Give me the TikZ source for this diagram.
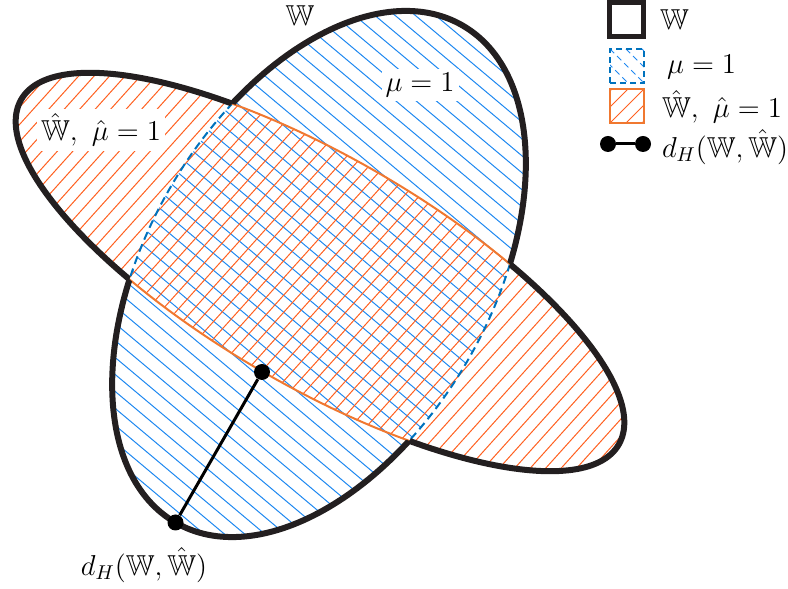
\documentclass[tikz,border=0pt]{standalone}
\usepackage{amsmath,amssymb}
\usepackage{xcolor}
\usepackage{tikz}
\usetikzlibrary{positioning}
\definecolor{HatchBlue}{RGB}{30,136,240}
\definecolor{EdgeBlue}{RGB}{0,114,189}
\definecolor{HatchOrange}{RGB}{255,96,32}
\definecolor{EdgeOrange}{RGB}{240,120,48}
\definecolor{OutlineBlack}{RGB}{35,31,32}

\def\setW{(319,315) circle [x radius=287, y radius=172, rotate=60]}
\def\setWhat{(320,317) circle [x radius=345, y radius=115, rotate=-30]}
\def\outside{(-50,-50) -- (-50,650) -- (850,650) -- (850,-50) -- cycle}

\begin{document}
\begin{tikzpicture}[x=0.5pt, y=0.5pt, font=\Large,
  hatchW/.style={HatchBlue, line width=0.5pt},
  hatchWhat/.style={HatchOrange, line width=0.5pt},
  edgeW/.style={EdgeBlue, line width=1pt, dash pattern=on 4pt off 2.5pt},
  edgeWhat/.style={EdgeOrange, line width=1pt},
  outline/.style={OutlineBlack, line width=3pt},
  dot/.style={circle, fill=black, inner sep=0pt, minimum size=8pt},
  hline/.style={black, line width=1.5pt},
  lab/.style={fill=white, inner sep=2pt},
  legbox/.style={minimum size=17pt, inner sep=0pt}]
  \useasboundingbox (0,0) rectangle (788,589);

  % hatching of both sets
  \begin{scope}
    \clip \setW;
    \foreach \k in {-26,...,26}
      \draw[hatchW, rotate around={-40:(319,315)}] (-100,315+\k*13) -- (740,315+\k*13);
  \end{scope}
  \begin{scope}
    \clip \setWhat;
    \foreach \k in {-34,...,34}
      \draw[hatchWhat, rotate around={48:(320,317)}] (-100,317+\k*11.5) -- (740,317+\k*11.5);
  \end{scope}

  % inner boundaries
  \begin{scope}
    \clip \setWhat;
    \draw[edgeW] \setW;
  \end{scope}
  \begin{scope}
    \clip \setW;
    \draw[edgeWhat] \setWhat;
  \end{scope}

  % outline of the union
  \begin{scope}[even odd rule]
    \clip \outside \setWhat;
    \draw[outline] \setW;
  \end{scope}
  \begin{scope}[even odd rule]
    \clip \outside \setW;
    \draw[outline] \setWhat;
  \end{scope}

  % Hausdorff distance
  \node[dot] (far) at (175.5,66.5) {};
  \node[dot] (near) at (262,217) {};
  \draw[hline] (far) -- (near);

  \node (nameW) at (300,573) {$\mathbb{W}$};
  \node[lab] (nameMu) at (420,504) {$\mu=1$};
  \node[lab] (nameWhat) at (101,459) {$\hat{\mathbb{W}},\ \hat{\mu}=1$};
  \node (nameDist) at (144,24) {$d_H(\mathbb{W},\hat{\mathbb{W}})$};

  % legend
  \node[legbox, draw=OutlineBlack, line width=2.5pt] (legW) at (626,569) {};
  \node[legbox, draw=EdgeBlue, line width=1pt, dash pattern=on 3pt off 2pt,
        path picture={\foreach \s in {-16,-8,...,16}
          \draw[hatchW] ([xshift=\s pt]path picture bounding box.north west) -- ++(20pt,-20pt);}]
        (legMu) at (627,523) {};
  \node[legbox, draw=EdgeOrange, line width=1pt,
        path picture={\foreach \s in {-16,-8,...,16}
          \draw[hatchWhat] ([xshift=\s pt]path picture bounding box.south west) -- ++(20pt,20pt);}]
        (legWhat) at (627,483) {};
  \node[dot] (legA) at (608,445) {};
  \node[dot] (legB) at (643,445) {};
  \draw[hline] (legA) -- (legB);

  \node[anchor=west] (textW) at (653,569) {$\mathbb{W}$};
  \node[anchor=west] (textMu) at (660,522) {$\mu=1$};
  \node[anchor=west] (textWhat) at (655,482) {$\hat{\mathbb{W}},\ \hat{\mu}=1$};
  \node[anchor=west] (textDist) at (655,442) {$d_H(\mathbb{W},\hat{\mathbb{W}})$};
\end{tikzpicture}
\end{document}
